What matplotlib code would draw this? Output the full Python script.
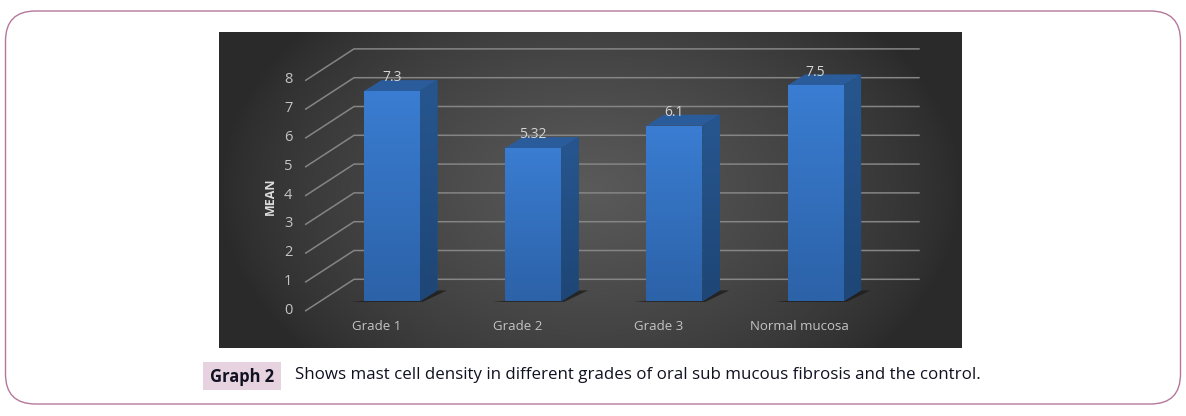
import numpy as np
import matplotlib
matplotlib.use('Agg')
import matplotlib.pyplot as plt
from matplotlib.patches import FancyBboxPatch, Polygon, Rectangle
from matplotlib.colors import LinearSegmentedColormap

categories = ['Grade 1', 'Grade 2', 'Grade 3', 'Normal mucosa']
values = [7.3, 5.32, 6.1, 7.5]
value_labels = ['7.3', '5.32', '6.1', '7.5']
y_ticks = [0, 1, 2, 3, 4, 5, 6, 7, 8]
y_title = 'MEAN'
caption_tag = 'Graph 2'
caption = 'Shows mast cell density in different grades of oral sub mucous fibrosis and the control.'

W, H = 1186, 416
fig = plt.figure(figsize=(W / 100, H / 100), dpi=100, facecolor='white')
plt.rcParams['font.family'] = ['Open Sans', 'DejaVu Sans']

# page layer, in pixels
page = fig.add_axes([0, 0, 1, 1])
page.set_xlim(0, W)
page.set_ylim(H, 0)
page.axis('off')
r = 30
page.add_patch(FancyBboxPatch((5.5 + r, 11 + r), 1175 - 2 * r, 393 - 2 * r,
                              boxstyle=f'round,pad={r},rounding_size={r}',
                              fc='white', ec='#b5779b', lw=1))
page.add_patch(Rectangle((203, 362), 78, 28, fc='#e6d3df', ec='none'))
page.text(242, 377.5, caption_tag, ha='center', va='center', fontsize=11.9, fontweight='bold',
          color='#111122')
page.text(295, 375, caption, ha='left', va='center', fontsize=12.2, color='#111122')

# chart layer: x in category slots, y in data units
left, right, top, bottom = 219, 962, 32, 348
ax = fig.add_axes([left / W, 1 - bottom / H, (right - left) / W, (bottom - top) / H])
px_per_cat = 141.2
px_per_val = 28.8
ax.set_xlim((left - 392) / px_per_cat, (right - 392) / px_per_cat)
ax.set_ylim((301.3 - bottom) / px_per_val, (301.3 - top) / px_per_val)
ax.axis('off')

# background glow
yy, xx = np.mgrid[-1:1:200j, -1:1:400j]
glow = np.clip(1 - np.sqrt(xx ** 2 + (yy / 1.6) ** 2), 0, 1) ** 0.75
bg = LinearSegmentedColormap.from_list('bg', ['#2a2a2a', '#5a5a5a'])
ext = [*ax.get_xlim(), *ax.get_ylim()]
ax.imshow(glow, extent=ext, origin='lower', cmap=bg, aspect='auto', zorder=0)

grid_c = '#858585'
x_front, x_back, x_end = -0.611, -0.269, 3.732
for v in y_ticks:
    ax.plot([x_front, x_back, x_end], [v - 0.326, v + 0.764, v + 0.764], color=grid_c, lw=1.1,
            solid_joinstyle='round', zorder=1)
    ax.text(-0.735, v - 0.31, str(v), ha='center', va='center', fontsize=10.5, color='#c4c4c4', zorder=5)

ax.text(-0.86, 3.65, y_title, rotation=90, ha='center', va='center', fontsize=9, fontweight='bold',
        color='#dddddd', zorder=5)

# bars with depth
half = 28 / px_per_cat
dx, dy = 17.5 / px_per_cat, 10.9 / px_per_val
front = LinearSegmentedColormap.from_list('front', ['#2c62a8', '#3a7dd2'])
side = LinearSegmentedColormap.from_list('side', ['#1e4676', '#27568f'])
for i, v in enumerate(values):
    l, r = i - half, i + half
    ax.add_patch(Polygon([(l - 0.09, -0.02), (r + 0.02, -0.02), (r + 0.19, dy * 1.0), (r + dx, dy * 1.0), (r, 0.2)],
                         fc='#1c1c1c', ec='none', alpha=0.8, zorder=2))
    ax.add_patch(Polygon([(l, v), (r, v), (r + dx, v + dy), (l + dx, v + dy)], fc='#2a5c9c', ec='none', zorder=3))
    p = Polygon([(r, 0), (r + dx, dy), (r + dx, v + dy), (r, v)], fc='#235085', ec='none', zorder=3)
    ax.add_patch(p)
    im = ax.imshow(np.linspace(0, 1, 100).reshape(-1, 1), extent=[r, r + dx, 0, v + dy], origin='lower',
                   cmap=side, aspect='auto', zorder=3.1)
    im.set_clip_path(p)
    bars = ax.bar(i, v, width=2 * half, color='#3370bd', zorder=3.2)
    im = ax.imshow(np.linspace(0, 1, 100).reshape(-1, 1), extent=[l, r, 0, v], origin='lower',
                   cmap=front, aspect='auto', zorder=3.3)
    im.set_clip_path(bars[0])
    ax.text(i, v + 0.46, value_labels[i], ha='center', va='center', fontsize=10, color='#d4d4d4', zorder=6)
    ax.text(i - 0.112, -0.89, categories[i], ha='center', va='center', fontsize=9.5, color='#c4c4c4', zorder=5)

ax.set_xlim(ext[0], ext[1])
ax.set_ylim(ext[2], ext[3])

fig.savefig('out.png', dpi=100)
